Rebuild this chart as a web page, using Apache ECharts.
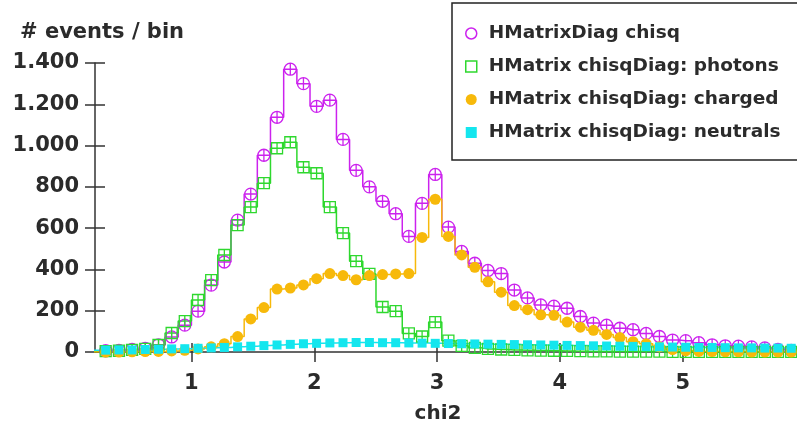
<!DOCTYPE html>
<html>
<head>
<meta charset="utf-8">
<script src="https://cdn.jsdelivr.net/npm/echarts@6/dist/echarts.min.js"></script>
<style>
html, body { margin: 0; padding: 0; background: #fff; }
#main { width: 797px; height: 427px; }
</style>
</head>
<body>
<div id="main"></div>
<script>
// histogram bin centres (chi2)
var binCenters = [0.195, 0.302, 0.410, 0.517, 0.624, 0.732, 0.839, 0.946, 1.054, 1.161,
  1.268, 1.376, 1.483, 1.590, 1.697, 1.805, 1.912, 2.019, 2.127, 2.234,
  2.341, 2.449, 2.556, 2.663, 2.770, 2.878, 2.985, 3.092, 3.200, 3.307,
  3.414, 3.522, 3.629, 3.736, 3.844, 3.951, 4.058, 4.166, 4.273, 4.380,
  4.488, 4.595, 4.702, 4.810, 4.917, 5.024, 5.131, 5.239, 5.346, 5.453,
  5.561, 5.668, 5.775, 5.883, 5.990];

var chisqAll = [4, 6, 8, 12, 18, 35, 73, 130, 198, 324,
  436, 639, 765, 953, 1137, 1370, 1300, 1190, 1220, 1030,
  880, 800, 730, 670, 560, 720, 860, 605, 487, 430,
  395, 380, 300, 262, 228, 222, 212, 172, 140, 130,
  115, 108, 90, 75, 58, 55, 45, 35, 30, 28,
  25, 20, 12, 8, 6];

var photons = [3, 4, 6, 10, 15, 34, 92, 150, 252, 348,
  470, 615, 702, 818, 987, 1016, 895, 866, 702, 576,
  440, 378, 218, 198, 90, 75, 145, 55, 30, 20,
  15, 12, 10, 8, 7, 6, 5, 4, 3, 3,
  2, 2, 2, 2, 1, 1, 1, 1, 1, 1,
  1, 1, 1, 1, 1];

var charged = [0, 0, 0, 1, 2, 3, 5, 8, 15, 25,
  40, 75, 160, 215, 305, 310, 325, 355, 380, 370,
  350, 370, 375, 378, 380, 555, 740, 560, 470, 410,
  340, 290, 225, 205, 180, 178, 145, 120, 105, 85,
  70, 50, 40, 25, 12, 6, 3, 2, 1, 1,
  0, 0, 0, 0, 0];

var neutrals = [8, 9, 10, 10, 12, 13, 15, 16, 18, 20,
  22, 25, 28, 31, 34, 37, 40, 42, 44, 45,
  46, 46, 45, 45, 44, 43, 42, 41, 40, 39,
  38, 37, 36, 35, 34, 33, 32, 31, 30, 29,
  28, 27, 26, 25, 24, 23, 22, 22, 21, 20,
  20, 19, 19, 18, 18];

var seriesNames = ['HMatrixDiag chisq', 'HMatrix chisqDiag: photons',
  'HMatrix chisqDiag: charged', 'HMatrix chisqDiag: neutrals'];
var seriesColors = ['#cc22ee', '#2ed82e', '#f7b90a', '#14e6ee'];
var xTicks = [1, 2, 3, 4, 5];

var font = 'DejaVu Sans';
var textColor = '#2b2b2b';
var axisColor = '#333';

function pairs(ys) {
  var out = [];
  for (var i = 0; i < ys.length; i++) out.push([binCenters[i], ys[i]]);
  return out;
}

function fmtThousands(v) {
  if (v >= 1000) {
    var r = String(v % 1000);
    while (r.length < 3) r = '0' + r;
    return Math.floor(v / 1000) + '.' + r;
  }
  return String(v);
}

var circleBar = 'path://M0,5A5,5,0,1,1,10,5A5,5,0,1,1,0,5Z M5,0L5,10';
var squareBar = 'path://M0,0L10,0L10,10L0,10Z M5,0L5,10';

var chart = echarts.init(document.getElementById('main'));

var option = {
  animation: false,
  backgroundColor: '#fff',
  title: {
    text: '# events / bin',
    left: 15,
    top: 17,
    textStyle: { fontFamily: font, fontSize: 21, fontWeight: 'bold', color: textColor }
  },
  legend: {
    orient: 'vertical',
    left: 452,
    top: 3,
    padding: [21, 60, 18, 13],
    itemGap: 14,
    itemWidth: 11,
    itemHeight: 11,
    borderColor: '#222',
    borderWidth: 1.5,
    backgroundColor: '#fff',
    textStyle: { fontFamily: font, fontSize: 18.5, fontWeight: 'bold', color: textColor, lineHeight: 19, padding: [0, 0, 0, 7] },
    data: [
      { name: seriesNames[0], icon: 'circle', itemStyle: { color: '#fff', borderColor: seriesColors[0], borderWidth: 1.5 } },
      { name: seriesNames[1], icon: 'rect', itemStyle: { color: '#fff', borderColor: seriesColors[1], borderWidth: 1.5 } },
      { name: seriesNames[2], icon: 'circle', itemStyle: { color: seriesColors[2] } },
      { name: seriesNames[3], icon: 'rect', itemStyle: { color: seriesColors[3] } }
    ]
  },
  grid: { left: 95, right: 0, top: 63, bottom: 75, outerBoundsMode: 'none', containLabel: false },
  xAxis: [{
    type: 'value',
    min: 0.215,
    max: 5.93,
    name: 'chi2',
    nameLocation: 'middle',
    nameGap: 52,
    nameTextStyle: { fontFamily: font, fontSize: 20, fontWeight: 'bold', color: textColor, padding: [0, 16, 0, 0] },
    axisLine: { lineStyle: { color: axisColor, width: 1.5 } },
    axisTick: { customValues: xTicks, length: 10, lineStyle: { color: axisColor, width: 1.5 } },
    axisLabel: { customValues: xTicks, margin: 21, fontFamily: font, fontSize: 21, fontWeight: 'bold', color: textColor },
    splitLine: { show: false }
  }, {
    type: 'value',
    min: 0.215,
    max: 5.93,
    position: 'bottom',
    axisLine: { show: false },
    axisTick: { customValues: xTicks, inside: true, length: 9, lineStyle: { color: axisColor, width: 1.5 } },
    axisLabel: { show: false },
    splitLine: { show: false }
  }],
  yAxis: [{
    type: 'value',
    min: 0,
    max: 1400,
    interval: 200,
    axisLine: { show: true, lineStyle: { color: axisColor, width: 1.5 } },
    axisTick: { show: true, length: 10, lineStyle: { color: axisColor, width: 1.5 } },
    axisLabel: { margin: 16, fontFamily: font, fontSize: 21, fontWeight: 'bold', color: textColor, formatter: fmtThousands },
    splitLine: { show: false }
  }, {
    type: 'value',
    min: 0,
    max: 1400,
    interval: 200,
    position: 'left',
    axisLine: { show: false },
    axisTick: { show: true, inside: true, length: 10, lineStyle: { color: axisColor, width: 1.5 } },
    axisLabel: { show: false },
    splitLine: { show: false }
  }],
  series: [{
    name: seriesNames[0],
    type: 'line',
    step: 'middle',
    data: pairs(chisqAll),
    symbol: circleBar,
    symbolSize: 12,
    showAllSymbol: true,
    lineStyle: { color: seriesColors[0], width: 1.5 },
    itemStyle: { color: 'rgba(255,255,255,0)', borderColor: seriesColors[0], borderWidth: 1.3 }
  }, {
    name: seriesNames[1],
    type: 'line',
    step: 'middle',
    data: pairs(photons),
    symbol: squareBar,
    symbolSize: 11,
    showAllSymbol: true,
    lineStyle: { color: seriesColors[1], width: 1.5 },
    itemStyle: { color: 'rgba(255,255,255,0)', borderColor: seriesColors[1], borderWidth: 1.3 }
  }, {
    name: seriesNames[2],
    type: 'line',
    step: 'middle',
    data: pairs(charged),
    symbol: 'circle',
    symbolSize: 11,
    showAllSymbol: true,
    lineStyle: { color: seriesColors[2], width: 1.5 },
    itemStyle: { color: seriesColors[2], borderWidth: 0 }
  }, {
    name: seriesNames[3],
    type: 'line',
    step: 'middle',
    data: pairs(neutrals),
    symbol: 'rect',
    symbolSize: 9,
    showAllSymbol: true,
    lineStyle: { color: seriesColors[3], width: 1.5 },
    itemStyle: { color: seriesColors[3], borderWidth: 0 }
  }]
};

chart.setOption(option);
</script>
</body>
</html>
